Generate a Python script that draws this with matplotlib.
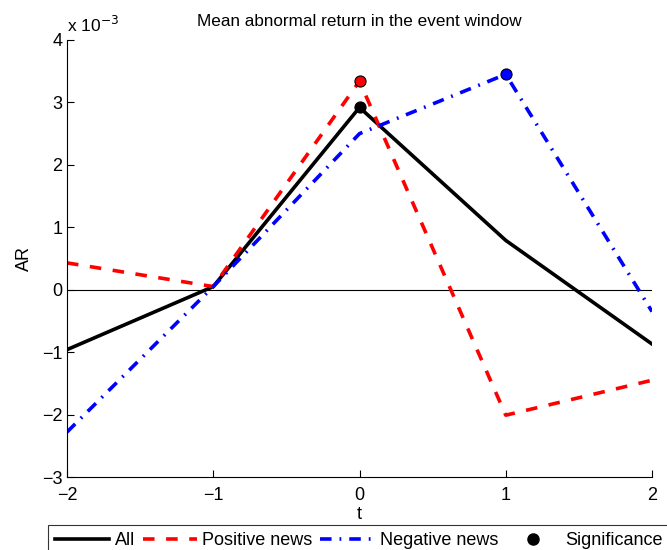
import numpy as np
import matplotlib.pyplot as plt
from matplotlib.lines import Line2D

plt.rcParams['font.family'] = ['Liberation Sans', 'DejaVu Sans']
plt.rcParams['font.size'] = 13

# ── Data (AR in units of 1e-3) ────────────────────────────────────────────────
t = [-2, -1, 0, 1, 2]
ar_all = [-0.96, 0.05, 2.92, 0.79, -0.87]
ar_pos = [0.43, 0.05, 3.34, -2.01, -1.45]
ar_neg = [-2.28, 0.05, 2.50, 3.45, -0.35]

# significant points: (t, AR, colour)
sig_t = [0, 0, 1]
sig_ar = [3.34, 2.92, 3.45]
sig_col = ['red', 'black', 'blue']

scale = 1e-3
DASH = (0, (3.2, 3.2))
DASHDOT = (0, (3.2, 2.2, 0.5, 2.2))

fig = plt.figure(figsize=(6.67, 5.5), dpi=100)
ax = fig.add_axes([67 / 667, 1 - 477 / 550, 585 / 667, 437 / 550])

ax.axhline(0, color='black', lw=0.8)
ax.plot(t, np.array(ar_all) * scale, color='black', lw=2.6, ls='-')
ax.plot(t, np.array(ar_pos) * scale, color='red', lw=2.6, ls=DASH)
ax.plot(t, np.array(ar_neg) * scale, color='blue', lw=2.6, ls=DASHDOT)
for x, y, c in zip(sig_t, sig_ar, sig_col):
    ax.plot(x, y * scale, 'o', ms=8, mfc=c, mec='black', mew=0.8,
            zorder=5)

ax.set_xlim(-2, 2)
ax.set_ylim(-3e-3, 4e-3)
ax.set_xticks([-2, -1, 0, 1, 2])
ax.set_yticks(np.arange(-3, 5) * scale)
ax.set_yticklabels(['\u22123', '\u22122', '\u22121', '0', '1', '2', '3', '4'])
ax.set_xticklabels(['\u22122', '\u22121', '0', '1', '2'])
ax.tick_params(direction='in', length=5, width=0.8)
ax.tick_params(axis='x', pad=7.5)
ax.tick_params(axis='y', pad=3.5)
for side in ['top', 'right']:
    ax.spines[side].set_visible(False)
ax.spines['left'].set_linewidth(0.8)
ax.spines['bottom'].set_linewidth(0.8)

ax.text(0.0, 1 + 8 / 437, 'x 10$^{-3}$', transform=ax.transAxes,
        ha='left', va='baseline', fontsize=12.5)
ax.set_title('Mean abnormal return in the event window', fontsize=12.3,
             pad=10)
ax.set_xlabel('t', labelpad=1)
ax.set_ylabel('AR', labelpad=6)

handles = [
    Line2D([], [], color='black', lw=2.6),
    Line2D([], [], color='red', lw=2.6, ls=DASH),
    Line2D([], [], color='blue', lw=2.6, ls=DASHDOT),
    Line2D([], [], color='black', ls='none', marker='o', ms=8),
]
labels = ['All', 'Positive news', 'Negative news', 'Significance']
leg = fig.legend(handles, labels, loc='upper left',
                 bbox_to_anchor=(48 / 667, 1 - 525 / 550), ncol=4,
                 frameon=True, fancybox=False, handlelength=3.0,
                 columnspacing=0.42, handletextpad=0.3, borderpad=0.4,
                 borderaxespad=0, fontsize=13)
leg.get_frame().set_edgecolor('black')
leg.get_frame().set_linewidth(0.8)

fig.savefig('out.png', dpi=100)
